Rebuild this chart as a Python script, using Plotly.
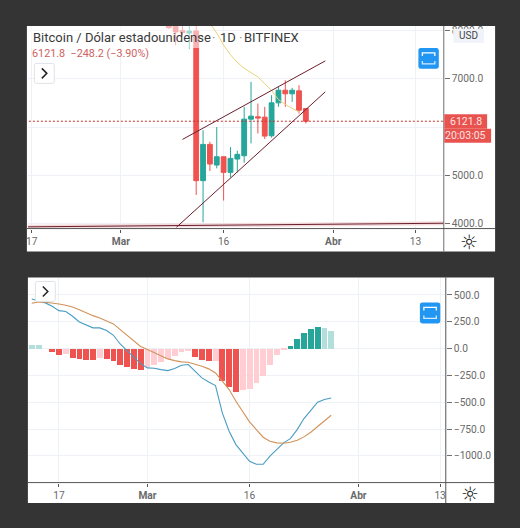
import pandas as pd
import plotly.graph_objects as go

W, H = 520, 528

candle_dates = pd.date_range("2020-03-08", periods=21).strftime("%Y-%m-%d").tolist()
opens = [8130, 8090, 8000, 7950, 7994, 4889, 5641, 5213, 5385, 5061, 5337, 5406, 6165, 6213, 6206, 5820, 6503, 6765, 6690, 6752, 6386]
highs = [8200, 8200, 8180, 8100, 8100, 5937, 5696, 6000, 5385, 5585, 5510, 6420, 6938, 6489, 6420, 6662, 6834, 6972, 6814, 6869, 6386]
lows = [8040, 7697, 7900, 7628, 4592, 4026, 5089, 5144, 4475, 4958, 5061, 5261, 5661, 5868, 5751, 5780, 6420, 6420, 6524, 6282, 6075]
closes = [8060, 7973, 7960, 7990, 4889, 5641, 5234, 5385, 5061, 5351, 5434, 6165, 6227, 6190, 5813, 6503, 6765, 6690, 6765, 6351, 6121.8]

ma_dates = pd.date_range("2020-03-14", periods=14).strftime("%Y-%m-%d").tolist()
ma_values = [8150, 7950, 7700, 7500, 7340, 7220, 7130, 7040, 6900, 6760, 6570, 6470, 6390, 6310]

trend_upper_dates = ["2020-03-10 00:00", "2020-03-30 20:00"]
trend_upper_values = [5744, 7373]
trend_lower_dates = ["2020-03-09 03:00", "2020-03-30 20:00"]
trend_lower_values = [3923, 6731]
trend_long_dates = ["2020-02-16 00:00", "2020-04-17 12:00"]
trend_long_values = [3930, 4006]

last_price = 6121.8
price_ticks = [4000, 5000, 6000, 7000, 8000]
price_labels = ["4000.0", "5000.0", "", "7000.0", "8000.0"]
macd_ticks = [500, 250, 0, -250, -500, -750, -1000]
macd_labels = ["500.0", "250.0", "0.0", "−250.0", "−500.0", "−750.0", "−1000.0"]
time_ticks = ["2020-02-17", "2020-03-01", "2020-03-16", "2020-04-01", "2020-04-13"]
time_labels = ["17", "<b>Mar</b>", "16", "<b>Abr</b>", "13"]

macd_dates = pd.date_range("2020-02-13", periods=45).strftime("%Y-%m-%d").tolist()
macd_line = [463, 441, 426, 394, 354, 345, 301, 248, 224, 193, 193, 168, 124, 43, -19, -81, -140,
             -180, -183, -196, -205, -186, -155, -149, -211, -273, -311, -345, -599, -770, -895, -972,
             -1050, -1078, -1078, -1003, -941, -879, -839, -755, -652, -575, -500, -475, -460]
signal_line = [422, 435, 432, 426, 416, 404, 388, 363, 332, 307, 286, 261, 230, 177, 124, 68, 19,
               -9, -40, -71, -96, -112, -124, -127, -143, -165, -189, -227, -304, -382, -491, -584,
               -683, -755, -826, -863, -879, -882, -873, -854, -823, -780, -724, -677, -621]
histogram = [37, 37, 0, -31, -62, -47, -84, -99, -106, -108, -87, -93, -112, -149, -171, -186, -196,
             -174, -149, -127, -99, -65, -34, -22, -75, -106, -118, -118, -304, -360, -398, -382,
             -370, -314, -252, -149, -62, -5, 28, 87, 146, 183, 205, 193, 162]

RED, PINK, TEAL, LTEAL = "#ef5350", "#ffcdd2", "#26a69a", "#b2dfdb"
GRID = "#eef1f6"
AXIS = "#6f6f6f"
TICK = "#6a6a6a"
MAROON = "#6b1f2c"
FONT = "Roboto"


def px(x):
    return x / W


def py(y):
    return 1 - y / H


def hist_color(i):
    v = histogram[i]
    prev = histogram[i - 1] if i else v
    if v >= 0:
        return TEAL if v > prev else LTEAL
    return RED if v < prev else PINK


fig = go.Figure()
fig.add_trace(go.Scatter(x=trend_long_dates, y=trend_long_values, mode="lines", xaxis="x", yaxis="y",
                         line=dict(color="#f2dadd", width=4)))
fig.add_trace(go.Scatter(x=ma_dates, y=ma_values, mode="lines", xaxis="x", yaxis="y",
                         line=dict(color="#e9d27a", width=1)))
fig.add_trace(go.Scatter(x=["2020-02-16", "2020-04-17 12:00"], y=[last_price, last_price], mode="lines", xaxis="x", yaxis="y",
                         line=dict(color="#c9302c", width=1, dash="2px,2px")))
fig.add_trace(go.Candlestick(x=candle_dates, open=opens, high=highs, low=lows, close=closes, xaxis="x", yaxis="y",
                             increasing=dict(line=dict(color=TEAL, width=1), fillcolor=TEAL),
                             decreasing=dict(line=dict(color=RED, width=1), fillcolor=RED),
                             whiskerwidth=0))
for xs, ys in [(trend_upper_dates, trend_upper_values), (trend_lower_dates, trend_lower_values),
               (trend_long_dates, trend_long_values)]:
    fig.add_trace(go.Scatter(x=xs, y=ys, mode="lines", xaxis="x", yaxis="y", line=dict(color=MAROON, width=1)))

fig.add_trace(go.Bar(x=macd_dates, y=histogram, xaxis="x2", yaxis="y2", width=74000000,
                     marker=dict(color=[hist_color(i) for i in range(len(histogram))], line=dict(width=0))))
fig.add_trace(go.Scatter(x=macd_dates, y=macd_line, mode="lines", xaxis="x2", yaxis="y2",
                         line=dict(color="#4a9cc4", width=1.1)))
fig.add_trace(go.Scatter(x=macd_dates, y=signal_line, mode="lines", xaxis="x2", yaxis="y2",
                         line=dict(color="#d2925a", width=1.1)))

shapes = [
    dict(type="rect", layer="below", xref="paper", yref="paper", x0=px(25), x1=px(495), y0=py(251), y1=py(25),
         fillcolor="white", line=dict(width=0)),
    dict(type="rect", layer="below", xref="paper", yref="paper", x0=px(26), x1=px(494), y0=py(503), y1=py(277),
         fillcolor="white", line=dict(width=0)),
    dict(type="rect", layer="above", xref="paper", yref="paper", x0=px(26), x1=px(208), y0=py(47), y1=py(25),
         fillcolor="rgba(255,255,255,0.55)", line=dict(width=0)),
    dict(type="rect", layer="above", xref="paper", yref="paper", x0=px(446), x1=px(494), y0=py(503), y1=py(483),
         fillcolor="white", line=dict(width=0)),
    dict(type="line", layer="above", xref="paper", yref="paper", x0=px(443.5), x1=px(443.5), y0=py(251), y1=py(25),
         line=dict(color=AXIS, width=1)),
    dict(type="line", layer="above", xref="paper", yref="paper", x0=px(25), x1=px(495), y0=py(228), y1=py(228),
         line=dict(color="#555555", width=1)),
    dict(type="line", layer="above", xref="paper", yref="paper", x0=px(445.5), x1=px(445.5), y0=py(503), y1=py(277),
         line=dict(color="#555555", width=1)),
    dict(type="line", layer="above", xref="paper", yref="paper", x0=px(26), x1=px(494), y0=py(482.5), y1=py(482.5),
         line=dict(color="#555555", width=1)),
    dict(type="rect", layer="above", xref="paper", yref="paper", x0=px(444), x1=px(487), y0=py(128), y1=py(113.5),
         fillcolor="#e8534f", line=dict(width=0)),
    dict(type="rect", layer="above", xref="paper", yref="paper", x0=px(444), x1=px(491), y0=py(142), y1=py(128),
         fillcolor="#e8534f", line=dict(width=0)),
    dict(type="rect", layer="above", xref="paper", yref="paper", x0=px(453), x1=px(484), y0=py(42), y1=py(28),
         fillcolor="#f0f3fa", line=dict(width=0)),
]


def rounded(x0, y0, x1, y1, r):
    return (f"M {px(x0+r)} {py(y0)} L {px(x1-r)} {py(y0)} Q {px(x1)} {py(y0)} {px(x1)} {py(y0+r)} "
            f"L {px(x1)} {py(y1-r)} Q {px(x1)} {py(y1)} {px(x1-r)} {py(y1)} "
            f"L {px(x0+r)} {py(y1)} Q {px(x0)} {py(y1)} {px(x0)} {py(y1-r)} "
            f"L {px(x0)} {py(y0+r)} Q {px(x0)} {py(y0)} {px(x0+r)} {py(y0)} Z")


def path_shape(path, fill=None, color=None, width=1):
    d = dict(type="path", layer="above", xref="paper", yref="paper", path=path, line=dict(width=width, color=color or "rgba(0,0,0,0)"))
    if fill:
        d["fillcolor"] = fill
    return d


for x0, y0, x1, y1 in [(418, 47, 438.5, 68), (419.5, 302, 440, 323)]:
    shapes.append(path_shape(rounded(x0, y0, x1, y1, 2.5), fill="#2196f3", width=0))
    a, b, c, d = x0 + 4, x1 - 4, y0 + 5, y1 - 5
    shapes.append(path_shape(f"M {px(a)} {py(c+3)} L {px(a)} {py(c)} L {px(b)} {py(c)} L {px(b)} {py(c+3)}", color="white", width=1.3))
    shapes.append(path_shape(f"M {px(a)} {py(d-3)} L {px(a)} {py(d)} L {px(b)} {py(d)} L {px(b)} {py(d-3)}", color="#cfeaff", width=1.3))
for x0, y0, x1, y1 in [(32.5, 62.5, 52.5, 82.5), (33.5, 281, 53.5, 301)]:
    shapes.append(path_shape(rounded(x0, y0, x1, y1, 2), fill="white", color="#dfe2e6", width=1))
    cx, cy = (x0 + x1) / 2, (y0 + y1) / 2
    shapes.append(path_shape(f"M {px(cx-2.5)} {py(cy-5)} L {px(cx+2.5)} {py(cy)} L {px(cx-2.5)} {py(cy+5)}", color="#222222", width=1.5))


def note(text, x, y, size, color, anchor="left", family=FONT):
    return dict(text=text, xref="paper", yref="paper", x=px(x), y=py(y), xanchor=anchor, yanchor="middle",
                showarrow=False, font=dict(family=family, size=size, color=color))


annotations = [
    note("Bitcoin / Dólar estadounidense", 29.5, 36.5, 13, "#3a3a3a"),
    note("1D", 216.5, 36.5, 13, "#3a3a3a"),
    note("BITFINEX", 241, 36.5, 13, "#3a3a3a"),
    note("·", 209, 36.5, 13, "#888888"),
    note("·", 235.5, 36.5, 13, "#888888"),
    note("6121.8  −248.2 (−3.90%)", 28.5, 53, 10.8, "#d0615e"),
    note("USD", 468.5, 35, 10, "#444444", "center"),
    note("6121.8", 465.5, 120.5, 10.5, "#fbe3e2", "center"),
    note("20:03:05", 465.5, 135, 10.5, "#fbe3e2", "center"),
    note("☼", 469, 241, 20, "#222222", "center", "DejaVu Sans"),
    note("☼", 469.5, 494, 20, "#222222", "center", "DejaVu Sans"),
]

tick_font = dict(family=FONT, size=10.2, color=TICK)
xcommon = dict(type="date", tickmode="array", tickvals=time_ticks, ticktext=time_labels, showgrid=True, gridcolor=GRID,
               gridwidth=1, ticks="outside", ticklen=3, tickcolor="#555555", tickfont=tick_font, zeroline=False,
               tickangle=0, rangeslider=dict(visible=False))
ycommon = dict(side="right", tickmode="array", showgrid=True, gridcolor=GRID, gridwidth=1, ticks="outside", ticklen=5,
               tickcolor=AXIS, tickfont=tick_font, zeroline=False)

fig.update_layout(
    width=W, height=H, autosize=False, margin=dict(l=0, r=0, t=0, b=0),
    paper_bgcolor="#343434", plot_bgcolor="rgba(0,0,0,0)", showlegend=False, boxgap=0.3, boxgroupgap=0, bargap=0,
    xaxis=dict(domain=[px(26), px(443.5)], anchor="y", range=["2020-02-16 10:40", "2020-04-17 03:00"], **xcommon),
    yaxis=dict(domain=[py(228), py(25)], anchor="x", range=[3895, 8098], tickvals=price_ticks, ticktext=price_labels, **ycommon),
    xaxis2=dict(domain=[px(26), px(445.5)], anchor="y2", range=["2020-02-12 10:30", "2020-04-13 20:00"], **xcommon),
    yaxis2=dict(domain=[py(482.5), py(277.3)], anchor="x2", range=[-1249, 660], tickvals=macd_ticks, ticktext=macd_labels, **ycommon),
    shapes=shapes, annotations=annotations,
)

fig.write_html("out.html", config=dict(displayModeBar=False), default_width="520px", default_height="528px",
               post_script="document.body.style.margin='0';document.body.style.overflow='hidden';")
